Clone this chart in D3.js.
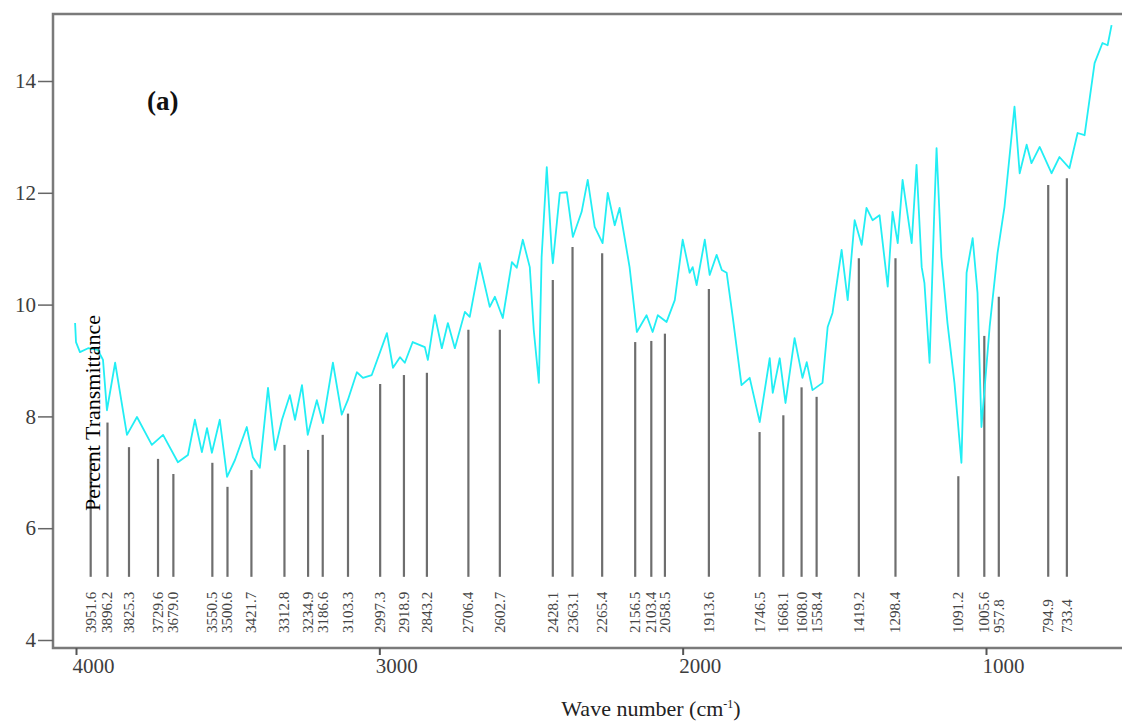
<!DOCTYPE html>
<html>
<head>
<meta charset="utf-8">
<script src="https://cdn.jsdelivr.net/npm/d3@7"></script>
<style>
  body { margin: 0; background: #fff; }
  svg { display: block; }
</style>
</head>
<body>
<svg id="chart" width="1122" height="726"></svg>
<script>
// spectrum trace (wave number, % transmittance)
var waveNumbers = [4003, 4000, 3987, 3960, 3928, 3911, 3898, 3871, 3832, 3799, 3750, 3713, 3664, 3631, 3608, 3585,
  3568, 3552, 3526, 3502, 3476, 3437, 3417, 3394, 3367, 3344, 3321, 3295, 3278, 3255, 3236, 3206, 3186, 3153,
  3124, 3104, 3074, 3054, 3025, 2975, 2955, 2932, 2916, 2890, 2850, 2840, 2817, 2794, 2774, 2751, 2718, 2702,
  2669, 2636, 2619, 2593, 2563, 2547, 2527, 2504, 2491, 2474, 2465, 2448, 2432, 2428, 2405, 2382, 2362, 2333,
  2313, 2290, 2264, 2247, 2224, 2208, 2175, 2151, 2119, 2099, 2082, 2053, 2026, 2000, 1977, 1967, 1954, 1927,
  1911, 1888, 1871, 1855, 1835, 1806, 1779, 1746, 1713, 1703, 1680, 1661, 1631, 1605, 1591, 1572, 1539, 1522,
  1506, 1476, 1456, 1433, 1410, 1394, 1374, 1351, 1324, 1308, 1291, 1275, 1245, 1229, 1212, 1203, 1186, 1170,
  1163, 1147, 1127, 1104, 1081, 1064, 1044, 1028, 1015, 988, 962, 939, 906, 889, 866, 850, 823, 784, 758, 725,
  698, 675, 642, 616, 599, 586];
var transmittance = [9.67, 9.33, 9.15, 9.22, 9.19, 9.01, 8.11, 8.96, 7.67, 7.99, 7.49, 7.67, 7.18, 7.31, 7.94, 7.36,
  7.79, 7.35, 7.94, 6.92, 7.22, 7.81, 7.27, 7.08, 8.51, 7.40, 7.94, 8.38, 7.94, 8.56, 7.67, 8.29, 7.88, 8.96,
  8.03, 8.29, 8.79, 8.69, 8.74, 9.49, 8.87, 9.06, 8.96, 9.33, 9.24, 9.01, 9.81, 9.22, 9.67, 9.22, 9.87, 9.78,
  10.74, 9.96, 10.14, 9.76, 10.76, 10.66, 11.16, 10.67, 9.55, 8.60, 10.85, 12.46, 10.98, 10.74, 12.00, 12.01, 11.21, 11.66,
  12.23, 11.39, 11.10, 12.00, 11.42, 11.73, 10.67, 9.51, 9.81, 9.51, 9.81, 9.69, 10.08, 11.16, 10.57, 10.67, 10.35, 11.16,
  10.53, 10.89, 10.62, 10.57, 9.78, 8.56, 8.69, 7.90, 9.04, 8.42, 9.04, 8.24, 9.40, 8.69, 8.97, 8.47, 8.60, 9.60,
  9.85, 10.98, 10.08, 11.51, 11.07, 11.73, 11.51, 11.60, 10.32, 11.66, 11.10, 12.23, 11.10, 12.50, 10.67, 10.39, 8.96, 11.75,
  12.80, 10.85, 9.67, 8.60, 7.17, 10.57, 11.19, 10.21, 7.81, 9.60, 10.92, 11.75, 13.54, 12.35, 12.86, 12.53, 12.82, 12.35, 12.64, 12.44,
  13.07, 13.03, 14.32, 14.68, 14.64, 15.00];

// marked peaks
var peakLabels = ["3951.6", "3896.2", "3825.3", "3729.6", "3679.0", "3550.5", "3500.6", "3421.7", "3312.8", "3234.9",
  "3186.6", "3103.3", "2997.3", "2918.9", "2843.2", "2706.4", "2602.7", "2428.1", "2363.1", "2265.4", "2156.5",
  "2103.4", "2058.5", "1913.6", "1746.5", "1668.1", "1608.0", "1558.4", "1419.2", "1298.4", "1091.2", "1005.6",
  "957.8", "794.9", "733.4"];
var peakWave = peakLabels.map(Number);
var peakTop = [7.3, 7.89, 7.45, 7.24, 6.97, 7.17, 6.74, 7.04, 7.49, 7.40, 7.67, 8.05, 8.58, 8.74, 8.78, 9.55, 9.55,
  10.44, 11.03, 10.92, 9.33, 9.35, 9.48, 10.28, 7.72, 8.02, 8.52, 8.35, 10.83, 10.83, 6.93, 9.44, 10.14, 12.14, 12.26];
var peakBase = 5.13;

var yTicks = [4, 6, 8, 10, 12, 14];
var xTicks = [4000, 3000, 2000, 1000];

var svg = d3.select("#chart");
var plotLeft = 53, plotTop = 14, plotBottom = 648, plotRight = 1122;

var x = d3.scaleLinear().domain([4000, 1000]).range([76, 986]);
var y = d3.scaleLinear().domain([4, 14]).range([640, 81]);

svg.append("clipPath").attr("id", "plotclip")
  .append("rect").attr("x", plotLeft).attr("y", plotTop)
  .attr("width", plotRight - plotLeft).attr("height", plotBottom - plotTop);

var plot = svg.append("g").attr("clip-path", "url(#plotclip)");

// peak bars
plot.selectAll(".peak").data(peakWave)
  .enter().append("line")
  .attr("class", "peak")
  .attr("x1", d => x(d)).attr("x2", d => x(d))
  .attr("y1", y(peakBase))
  .attr("y2", (d, i) => y(peakTop[i]))
  .attr("stroke", "#6e6e6e")
  .attr("stroke-width", 2.2);

// spectrum
var pts = waveNumbers.map((w, i) => [w, transmittance[i]]);
plot.append("path")
  .datum(pts)
  .attr("fill", "none")
  .attr("stroke", "#22eef4")
  .attr("stroke-width", 1.8)
  .attr("stroke-linejoin", "round")
  .attr("d", d3.line().x(d => x(d[0])).y(d => y(d[1])));

// frame
svg.append("path")
  .attr("d", "M" + plotRight + "," + plotTop + "H" + plotLeft + "V" + plotBottom + "H" + plotRight)
  .attr("fill", "none")
  .attr("stroke", "#7a7a7a")
  .attr("stroke-width", 2.5);

// y axis
var yAxis = svg.append("g")
  .attr("transform", "translate(" + plotLeft + ",0)")
  .call(d3.axisLeft(y).tickValues(yTicks).tickSize(15).tickPadding(2));
yAxis.select(".domain").remove();
yAxis.selectAll("line").attr("stroke", "#666").attr("stroke-width", 1.5);
yAxis.selectAll("text")
  .style("font-family", "'Liberation Serif', 'Times New Roman', serif")
  .style("font-size", "21px")
  .attr("fill", "#3d3d3d");

// x axis
var xAxis = svg.append("g")
  .attr("transform", "translate(0," + plotBottom + ")")
  .call(d3.axisBottom(x).tickValues(xTicks).tickSize(7).tickFormat(d3.format("d")));
xAxis.select(".domain").remove();
xAxis.selectAll("line").attr("stroke", "#555").attr("stroke-width", 2);
xAxis.selectAll("text")
  .attr("text-anchor", "start")
  .attr("x", -4)
  .style("font-family", "'Liberation Serif', 'Times New Roman', serif")
  .style("font-size", "21px")
  .attr("fill", "#3d3d3d");

// peak labels
svg.selectAll(".plabel").data(peakLabels)
  .enter().append("text")
  .attr("class", "plabel")
  .attr("transform", (d, i) => "translate(" + (x(peakWave[i]) + 5) + ",633) rotate(-90)")
  .attr("text-anchor", "start")
  .style("font-family", "'Liberation Serif', 'Times New Roman', serif")
  .style("font-size", "15px")
  .attr("fill", "#444")
  .text(d => d);

// titles
svg.append("text")
  .attr("transform", "translate(100,413) rotate(-90)")
  .attr("text-anchor", "middle")
  .style("font-family", "'Liberation Serif', 'Times New Roman', serif")
  .style("font-size", "22px")
  .attr("fill", "#000")
  .text("Percent Transmittance");

var xt = svg.append("text")
  .attr("x", 651).attr("y", 716)
  .attr("text-anchor", "middle")
  .style("font-family", "'Liberation Serif', 'Times New Roman', serif")
  .style("font-size", "22px")
  .attr("fill", "#222");
xt.append("tspan").text("Wave number (cm");
xt.append("tspan").attr("dy", -8).style("font-size", "12px").text("-1");
xt.append("tspan").attr("dy", 8).text(")");

svg.append("text")
  .attr("x", 147).attr("y", 110)
  .style("font-family", "'Liberation Serif', 'Times New Roman', serif")
  .style("font-size", "27px")
  .style("font-weight", "bold")
  .attr("fill", "#111")
  .text("(a)");
</script>
</body>
</html>
